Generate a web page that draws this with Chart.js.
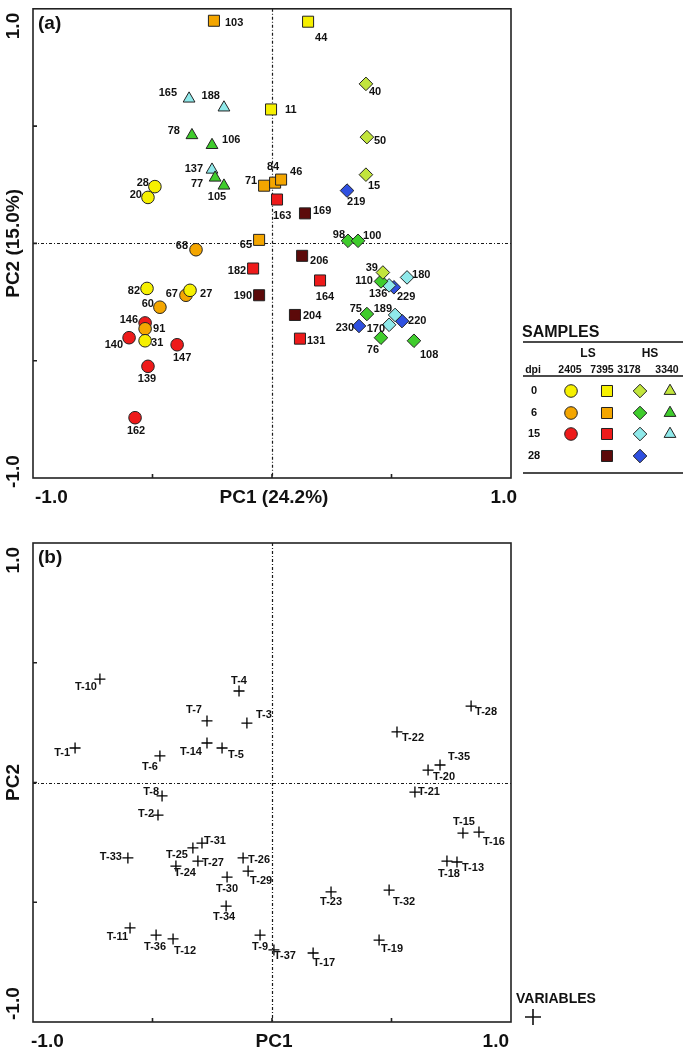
<!DOCTYPE html>
<html>
<head>
<meta charset="utf-8">
<script src="https://cdn.jsdelivr.net/npm/chart.js@4.4.0/dist/chart.umd.min.js"></script>
<style>
  body { margin: 0; background: #fff; }
  #wrap { position: relative; width: 685px; height: 1057px; }
  canvas { position: absolute; left: 0; }
</style>
</head>
<body>
<div id="wrap">
  <canvas id="chartA" width="685" height="530" style="top:0"></canvas>
  <canvas id="chartB" width="685" height="527" style="top:530px"></canvas>
</div>
<script>
// ---- (a) sample scores, one set of arrays per strain / dpi ----
const ids2405d0 = ['28', '20', '82', '27', '31'];
const pc1_2405d0 = [-0.490, -0.519, -0.523, -0.343, -0.531];
const pc2_2405d0 = [0.242, 0.196, -0.192, -0.200, -0.415];

const ids2405d6 = ['68', '67', '60', '91'];
const pc1_2405d6 = [-0.318, -0.360, -0.469, -0.531];
const pc2_2405d6 = [-0.027, -0.221, -0.272, -0.364];

const ids2405d15 = ['146', '140', '147', '139', '162'];
const pc1_2405d15 = [-0.531, -0.598, -0.397, -0.519, -0.573];
const pc2_2405d15 = [-0.339, -0.402, -0.432, -0.524, -0.743];

const ids7395d0 = ['11', '44'];
const pc1_7395d0 = [-0.004, 0.151];
const pc2_7395d0 = [0.571, 0.945];

const ids7395d6 = ['103', '71', '84', '46', '65'];
const pc1_7395d6 = [-0.243, -0.033, 0.013, 0.038, -0.054];
const pc2_7395d6 = [0.949, 0.246, 0.259, 0.272, 0.015];

const ids7395d15 = ['163', '182', '164', '131'];
const pc1_7395d15 = [0.021, -0.079, 0.201, 0.117];
const pc2_7395d15 = [0.187, -0.107, -0.158, -0.406];

const ids7395d28 = ['169', '190', '206', '204'];
const pc1_7395d28 = [0.138, -0.054, 0.126, 0.096];
const pc2_7395d28 = [0.128, -0.221, -0.053, -0.305];

const ids3178d0 = ['40', '50', '15', '39'];
const pc1_3178d0 = [0.393, 0.397, 0.393, 0.464];
const pc2_3178d0 = [0.680, 0.453, 0.293, -0.124];

const ids3178d6 = ['98', '100', '110', '75', '76', '108'];
const pc1_3178d6 = [0.318, 0.360, 0.456, 0.397, 0.456, 0.594];
const pc2_3178d6 = [0.011, 0.011, -0.162, -0.301, -0.402, -0.415];

const ids3178d15 = ['136', '180', '189', '170'];
const pc1_3178d15 = [0.490, 0.565, 0.515, 0.490];
const pc2_3178d15 = [-0.179, -0.145, -0.305, -0.347];

const ids3178d28 = ['219', '229', '220', '230'];
const pc1_3178d28 = [0.314, 0.510, 0.544, 0.364];
const pc2_3178d28 = [0.225, -0.187, -0.331, -0.352];

const ids3340d0 = [];
const pc1_3340d0 = [];
const pc2_3340d0 = [];

const ids3340d6 = ['78', '106', '77', '105'];
const pc1_3340d6 = [-0.335, -0.251, -0.238, -0.201];
const pc2_3340d6 = [0.461, 0.419, 0.280, 0.246];

const ids3340d15 = ['165', '188', '137'];
const pc1_3340d15 = [-0.347, -0.201, -0.251];
const pc2_3340d15 = [0.617, 0.579, 0.314];

// ---- (b) variable loadings ----
const varNames = ['T-1', 'T-2', 'T-3', 'T-4', 'T-5', 'T-6', 'T-7', 'T-8', 'T-9', 'T-10',
  'T-11', 'T-12', 'T-13', 'T-14', 'T-15', 'T-16', 'T-17', 'T-18', 'T-19', 'T-20',
  'T-21', 'T-22', 'T-23', 'T-24', 'T-25', 'T-26', 'T-27', 'T-28', 'T-29', 'T-30',
  'T-31', 'T-32', 'T-33', 'T-34', 'T-35', 'T-36', 'T-37'];
const varPC1 = [-0.824, -0.477, -0.105, -0.138, -0.209, -0.469, -0.272, -0.460, -0.050, -0.720,
  -0.594, -0.414, 0.774, -0.272, 0.799, 0.866, 0.172, 0.732, 0.448, 0.653,
  0.598, 0.523, 0.247, -0.402, -0.331, -0.121, -0.310, 0.833, -0.100, -0.188,
  -0.293, 0.490, -0.603, -0.192, 0.703, -0.485, 0.008];
const varPC2 = [0.144, -0.136, 0.248, 0.382, 0.144, 0.111, 0.257, -0.056, -0.637, 0.432,
  -0.607, -0.653, -0.332, 0.165, -0.211, -0.207, -0.712, -0.328, -0.658, 0.052,
  -0.040, 0.211, -0.457, -0.349, -0.273, -0.315, -0.328, 0.319, -0.370, -0.395,
  -0.253, -0.449, -0.315, -0.516, 0.073, -0.637, -0.699];

const axisTicks = [-0.5, 0, 0.5];
const legendDpi = [0, 6, 15, 28];
const legendStrains = ['2405', '7395', '3178', '3340'];

// ---- styling ----
const strainType = { '2405': 'LS', '7395': 'LS', '3178': 'HS', '3340': 'HS' };
const strainStyle = { '2405': 'circle', '7395': 'rect', '3178': 'rectRot', '3340': 'triangle' };
const styleRadius = { circle: 6.3, rect: 7.8, rectRot: 6.8, triangle: 6.8 };
const dpiColors = {
  LS: { 0: '#f6f000', 6: '#f4a600', 15: '#ee1a1a', 28: '#5c0a0a' },
  HS: { 0: '#c2e53c', 6: '#3fcc2c', 15: '#8fe9ea', 28: '#2f50e0' }
};

// label anchor offsets in px: [dx, dy, align]  l = text ends left of point, r = starts right, c = centred
const labelPos = {
  '103': [11, 2, 'r'], '165': [-12, -6, 'l'], '188': [-4, -12, 'l'], '78': [-12, -4, 'l'],
  '106': [10, -5, 'r'], '137': [-9, -1, 'l'], '77': [-12, 6, 'l'], '105': [-7, 11, 'c'],
  '28': [-6, -4, 'l'], '20': [-6, -2, 'l'], '11': [14, 1, 'r'], '71': [-7, -5, 'l'],
  '84': [-2, -16, 'c'], '46': [9, -8, 'r'], '163': [-4, 16, 'r'], '169': [8, -2, 'r'],
  '44': [7, 16, 'r'], '40': [3, 8, 'r'], '50': [7, 4, 'r'], '15': [2, 11, 'r'],
  '219': [0, 11, 'r'], '98': [-3, -6, 'l'], '100': [5, -5, 'r'], '68': [-8, -4, 'l'],
  '65': [-7, 5, 'l'], '182': [-7, 2, 'l'], '190': [-7, 1, 'l'], '82': [-7, 3, 'l'],
  '67': [-8, -1, 'l'], '27': [10, 4, 'r'], '60': [-6, -3, 'l'], '146': [-7, -3, 'l'],
  '91': [8, 0, 'r'], '140': [-6, 7, 'l'], '31': [6, 2, 'r'], '147': [5, 13, 'c'],
  '139': [-1, 13, 'c'], '162': [1, 13, 'c'], '206': [8, 5, 'r'], '164': [5, 17, 'c'],
  '204': [8, 1, 'r'], '131': [7, 2, 'r'], '39': [-5, -5, 'l'], '110': [-8, 0, 'l'],
  '136': [-11, 9, 'c'], '229': [3, 10, 'r'], '180': [5, -2, 'r'], '75': [-5, -5, 'l'],
  '189': [-3, -6, 'l'], '220': [6, 0, 'r'], '170': [-4, 4, 'l'], '230': [-5, 2, 'l'],
  '76': [-8, 12, 'c'], '108': [6, 14, 'r'],
  'T-10': [-3, 8, 'l'], 'T-4': [0, -10, 'c'], 'T-7': [-5, -11, 'l'], 'T-3': [9, -8, 'r'],
  'T-1': [-5, 5, 'l'], 'T-14': [-5, 9, 'l'], 'T-5': [6, 7, 'r'], 'T-6': [-2, 11, 'l'],
  'T-8': [-3, -4, 'l'], 'T-2': [-4, -1, 'l'], 'T-31': [2, -2, 'r'], 'T-25': [-5, 7, 'l'],
  'T-27': [4, 2, 'r'], 'T-24': [-2, 7, 'r'], 'T-33': [-6, -1, 'l'], 'T-30': [0, 12, 'c'],
  'T-26': [5, 2, 'r'], 'T-29': [2, 10, 'r'], 'T-34': [-2, 11, 'c'], 'T-11': [-2, 9, 'l'],
  'T-36': [-1, 12, 'c'], 'T-12': [1, 12, 'r'], 'T-9': [0, 12, 'c'], 'T-37': [0, 6, 'r'],
  'T-17': [0, 10, 'r'], 'T-23': [0, 10, 'c'], 'T-32': [4, 12, 'r'], 'T-19': [2, 9, 'r'],
  'T-18': [2, 13, 'c'], 'T-13': [5, 6, 'r'], 'T-15': [1, -11, 'c'], 'T-16': [4, 10, 'r'],
  'T-28': [4, 6, 'r'], 'T-22': [5, 6, 'r'], 'T-35': [8, -8, 'r'], 'T-20': [5, 7, 'r'],
  'T-21': [3, 0, 'r']
};

const FONT = '"Liberation Sans", Arial, sans-serif';
const INK = '#111';

const groups = [
  ['2405', 0, ids2405d0, pc1_2405d0, pc2_2405d0],
  ['2405', 6, ids2405d6, pc1_2405d6, pc2_2405d6],
  ['2405', 15, ids2405d15, pc1_2405d15, pc2_2405d15],
  ['7395', 0, ids7395d0, pc1_7395d0, pc2_7395d0],
  ['7395', 6, ids7395d6, pc1_7395d6, pc2_7395d6],
  ['7395', 15, ids7395d15, pc1_7395d15, pc2_7395d15],
  ['7395', 28, ids7395d28, pc1_7395d28, pc2_7395d28],
  ['3340', 0, ids3340d0, pc1_3340d0, pc2_3340d0],
  ['3340', 6, ids3340d6, pc1_3340d6, pc2_3340d6],
  ['3340', 15, ids3340d15, pc1_3340d15, pc2_3340d15],
  ['3178', 0, ids3178d0, pc1_3178d0, pc2_3178d0],
  ['3178', 6, ids3178d6, pc1_3178d6, pc2_3178d6],
  ['3178', 15, ids3178d15, pc1_3178d15, pc2_3178d15],
  ['3178', 28, ids3178d28, pc1_3178d28, pc2_3178d28]
];

const groupColor = (strain, dpi) => dpiColors[strainType[strain]][dpi];

function drawMarker(ctx, style, color, x, y) {
  ctx.fillStyle = color;
  ctx.strokeStyle = '#222';
  ctx.lineWidth = 1;
  Chart.helpers.drawPoint(ctx, { pointStyle: style, radius: styleRadius[style], rotation: 0, borderWidth: 1 }, x, y);
}

function drawLegend(ctx) {
  ctx.fillStyle = INK;
  ctx.strokeStyle = INK;
  ctx.textBaseline = 'middle';
  ctx.textAlign = 'left';
  ctx.font = 'bold 16px ' + FONT;
  ctx.fillText('SAMPLES', 522, 333);
  ctx.lineWidth = 1.5;
  ctx.beginPath();
  [342, 376, 473].forEach(yy => { ctx.moveTo(523, yy); ctx.lineTo(683, yy); });
  ctx.stroke();
  ctx.textAlign = 'center';
  ctx.font = 'bold 12px ' + FONT;
  ctx.fillText('LS', 588, 354);
  ctx.fillText('HS', 650, 354);
  const colX = { '2405': 571, '7395': 607, '3178': 640, '3340': 670 };
  const headX = { '2405': 570, '7395': 602, '3178': 629, '3340': 667 };
  ctx.font = 'bold 10.5px ' + FONT;
  ctx.fillText('dpi', 533, 370);
  legendStrains.forEach(s => ctx.fillText(s, headX[s], 370));
  const rowY = [391, 413, 434, 456];
  legendDpi.forEach((d, r) => {
    ctx.fillStyle = INK;
    ctx.textAlign = 'center';
    ctx.font = 'bold 11px ' + FONT;
    ctx.fillText(String(d), 534, rowY[r]);
    groups.filter(g => g[1] === d).forEach(g => {
      drawMarker(ctx, strainStyle[g[0]], groupColor(g[0], d), colX[g[0]], rowY[r]);
    });
  });
}

const decor = {
  id: 'decor',
  beforeDatasetsDraw(chart, args, o) {
    const { ctx, chartArea: a, scales: { x, y } } = chart;
    ctx.save();
    // dotted zero lines
    ctx.strokeStyle = '#1a1a1a';
    ctx.lineWidth = 1.2;
    ctx.setLineDash([3, 2, 1, 2]);
    const x0 = Math.round(x.getPixelForValue(0)) + 0.5;
    const y0 = Math.round(y.getPixelForValue(0)) + 0.5;
    ctx.beginPath();
    ctx.moveTo(x0, a.top); ctx.lineTo(x0, a.bottom);
    ctx.moveTo(a.left, y0); ctx.lineTo(a.right, y0);
    ctx.stroke();
    ctx.setLineDash([]);
    // frame
    ctx.strokeStyle = '#222';
    ctx.lineWidth = 1.6;
    ctx.strokeRect(a.left, a.top, a.right - a.left, a.bottom - a.top);
    // inward ticks
    ctx.beginPath();
    axisTicks.forEach(v => {
      const px = x.getPixelForValue(v);
      ctx.moveTo(px, a.bottom); ctx.lineTo(px, a.bottom - 4);
      const py = y.getPixelForValue(v);
      ctx.moveTo(a.left, py); ctx.lineTo(a.left + 4, py);
    });
    ctx.stroke();

    // axis texts
    ctx.fillStyle = INK;
    ctx.font = 'bold 19px ' + FONT;
    ctx.textBaseline = 'middle';
    const ty = a.bottom + 20;
    ctx.textAlign = 'left';
    ctx.fillText('-1.0', x.getPixelForValue(-1) + o.xMinDx, ty);
    ctx.textAlign = 'right';
    ctx.fillText('1.0', x.getPixelForValue(1) + o.xMaxDx, ty);
    ctx.textAlign = 'center';
    ctx.fillText(o.xTitle, x.getPixelForValue(0) + 2, ty);
    ctx.textAlign = 'left';
    ctx.fillText(o.tag, a.left + 5, a.top + 15);

    ctx.save();
    ctx.translate(14, 0);
    ctx.rotate(-Math.PI / 2);
    ctx.textAlign = 'right';
    ctx.fillText('1.0', -(y.getPixelForValue(1) + 4), 0);
    ctx.textAlign = 'left';
    ctx.fillText('-1.0', -(y.getPixelForValue(-1) + o.yMinDy), 0);
    ctx.textAlign = 'center';
    ctx.fillText(o.yTitle, -y.getPixelForValue(0), 0);
    ctx.restore();
    ctx.restore();
  },
  afterDatasetsDraw(chart, args, o) {
    const { ctx } = chart;
    ctx.save();
    ctx.fillStyle = INK;
    ctx.font = 'bold 11px ' + FONT;
    ctx.textBaseline = 'middle';
    chart.data.datasets.forEach((ds, i) => {
      const meta = chart.getDatasetMeta(i);
      meta.data.forEach((pt, j) => {
        const id = ds.data[j].id;
        const p = labelPos[id] || [6, 0, 'r'];
        ctx.textAlign = p[2] === 'l' ? 'right' : p[2] === 'r' ? 'left' : 'center';
        ctx.fillText(id, pt.x + p[0], pt.y + p[1]);
      });
    });
    if (o.legend) drawLegend(ctx);
    if (o.variables) {
      ctx.textAlign = 'left';
      ctx.font = 'bold 14px ' + FONT;
      ctx.fillText('VARIABLES', 516, 469);
      ctx.strokeStyle = INK;
      ctx.lineWidth = 1.6;
      Chart.helpers.drawPoint(ctx, { pointStyle: 'cross', radius: 8, rotation: 0, borderWidth: 1.6 }, 533, 487);
    }
    ctx.restore();
  }
};

function baseOptions(padding, deco) {
  return {
    responsive: false,
    animation: false,
    events: [],
    layout: { padding },
    scales: {
      x: { type: 'linear', min: -1, max: 1, display: false },
      y: { type: 'linear', min: -1, max: 1, display: false }
    },
    plugins: { legend: { display: false }, tooltip: { enabled: false }, decor: deco }
  };
}

new Chart(document.getElementById('chartA'), {
  type: 'scatter',
  data: {
    datasets: groups.map(([strain, dpi, ids, pc1, pc2]) => {
      const style = strainStyle[strain];
      return {
        label: strain + ' ' + dpi + ' dpi',
        data: ids.map((id, i) => ({ x: pc1[i], y: pc2[i], id })),
        pointStyle: style,
        pointRadius: styleRadius[style],
        backgroundColor: groupColor(strain, dpi),
        borderColor: '#222',
        borderWidth: 1,
        clip: false
      };
    })
  },
  options: baseOptions({ left: 33, top: 3, right: 174, bottom: 52 },
    { xTitle: 'PC1 (24.2%)', yTitle: 'PC2 (15.0%)', tag: '(a)', xMinDx: 2, xMaxDx: 6, yMinDy: 10, legend: true }),
  plugins: [decor]
});

new Chart(document.getElementById('chartB'), {
  type: 'scatter',
  data: {
    datasets: [{
      label: 'variables',
      data: varNames.map((id, i) => ({ x: varPC1[i], y: varPC2[i], id })),
      pointStyle: 'cross',
      pointRadius: 5.5,
      borderColor: '#000',
      borderWidth: 1.3,
      clip: false
    }]
  },
  options: baseOptions({ left: 33, top: 13, right: 174, bottom: 35 },
    { xTitle: 'PC1', yTitle: 'PC2', tag: '(b)', xMinDx: -2, xMaxDx: -2, yMinDy: -2, variables: true }),
  plugins: [decor]
});
</script>
</body>
</html>
